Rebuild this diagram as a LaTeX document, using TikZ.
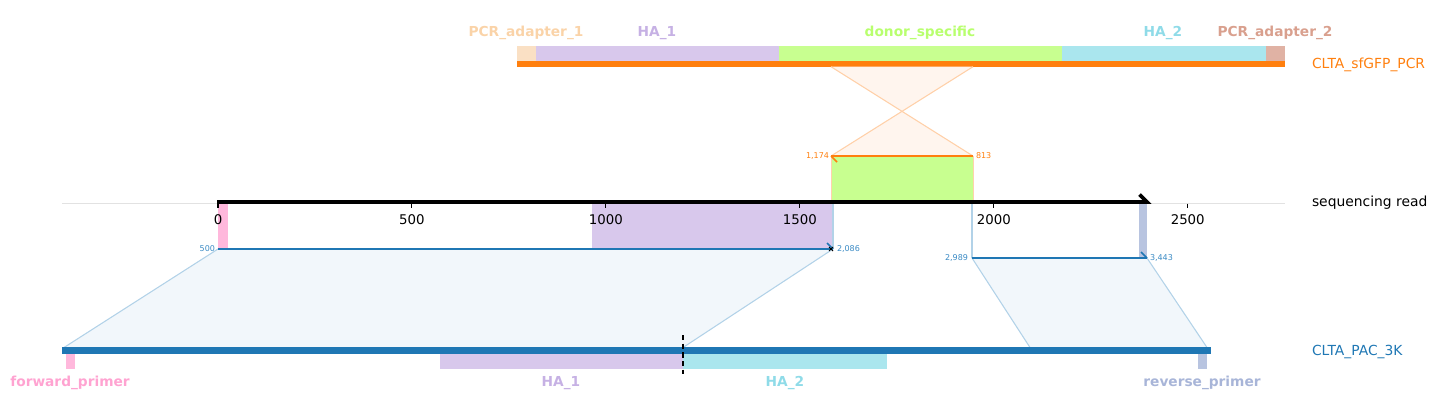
\documentclass[tikz,border=0pt]{standalone}
\usepackage{fontspec}
\setmainfont{DejaVu Sans}
\definecolor{cOrange}{HTML}{FF7F0E}
\definecolor{cBlue}{HTML}{1F77B4}
\definecolor{lbBlue}{HTML}{3A8AC4}
\definecolor{oFill}{HTML}{FFF5EE}
\definecolor{oLine}{HTML}{FFD0A8}
\definecolor{bFill}{HTML}{F2F7FB}
\definecolor{bLine}{HTML}{B2D2E8}
\definecolor{pinkBox}{HTML}{FFB8DC}
\definecolor{pinkTxt}{HTML}{FFA3D1}
\definecolor{lavBox}{HTML}{D8C8EC}
\definecolor{lavTxt}{HTML}{C6B1E4}
\definecolor{grnBox}{HTML}{C8FF90}
\definecolor{grnTxt}{HTML}{B8FF6E}
\definecolor{cyaBox}{HTML}{AAE6EE}
\definecolor{cyaTxt}{HTML}{8FDBE8}
\definecolor{pchBox}{HTML}{FAE0C4}
\definecolor{pchTxt}{HTML}{FAD3A8}
\definecolor{ad2Box}{HTML}{E0B2A4}
\definecolor{ad2Txt}{HTML}{D9A08E}
\definecolor{revBox}{HTML}{B8C4E0}
\definecolor{revTxt}{HTML}{A8B5D8}
\definecolor{axGrey}{HTML}{E2E2E2}
\begin{document}
\begin{tikzpicture}[x=0.75pt,y=-0.75pt,
  every node/.style={inner sep=0pt, outer sep=0pt},
  featlabel/.style={font=\bfseries\fontsize{10.3}{12}\selectfont, anchor=base},
  tracklabel/.style={font=\fontsize{10.4}{12}\selectfont, anchor=base west},
  ticklabel/.style={font=\fontsize{10}{12}\selectfont, anchor=base},
  smalllab/.style={font=\fontsize{6}{7}\selectfont},
  alnline/.style={cBlue, line width=1.5pt},
  edgeline/.style={bLine, line width=0.8pt},
]
\useasboundingbox (0,0) rectangle (1438,415);

% ---------- grey axis baseline ----------
\draw[axGrey, line width=0.7pt] (62,203) -- (1285,203);

% ---------- top track: CLTA_sfGFP_PCR ----------
\fill[pchBox] (517,46) rectangle (536,60.5);
\fill[lavBox] (536,46) rectangle (779,60.5);
\fill[grnBox] (779,46) rectangle (1062,60.5);
\fill[cyaBox] (1062,46) rectangle (1266,60.5);
\fill[ad2Box] (1266,46) rectangle (1285,60.5);
\fill[cOrange] (517,60.5) rectangle (1285,66.7);

\node[featlabel, text=pchTxt] (pa1) at (526,36.5) {PCR\_adapter\_1};
\node[featlabel, text=lavTxt] (ha1t) at (657,36.5) {HA\_1};
\node[featlabel, text=grnTxt] (dst) at (920,36.5) {donor\_specific};
\node[featlabel, text=cyaTxt] (ha2t) at (1163,36.5) {HA\_2};
\node[featlabel, text=ad2Txt] (pa2) at (1275,36.5) {PCR\_adapter\_2};
\node[tracklabel, text=cOrange] (pcrlab) at (1312,68) {CLTA\_sfGFP\_PCR};

% ---------- crossing (reverse) alignment ----------
\coordinate (tl) at (831,66.7);
\coordinate (tr) at (973,66.7);
\coordinate (bl) at (831,156);
\coordinate (br) at (973,156);
\fill[oFill] (tl) -- (tr) -- (bl) -- (br) -- cycle;
\draw[oLine, line width=0.8pt] (tl) -- (br) (tr) -- (bl);
\filldraw[fill=grnBox, draw=cOrange!35, line width=0.5pt] (831,156) rectangle (973,202);
\draw[cOrange, line width=1.5pt] (bl) -- (br);
\draw[cOrange, line width=1.3pt] (bl) -- ++(6,6);
\node[smalllab, text=cOrange, anchor=east] (l1174) at (829,156) {1,174};
\node[smalllab, text=cOrange, anchor=west] (l813) at (976,156) {813};

% ---------- read features ----------
\fill[pinkBox] (218,203) rectangle (228,249);
\fill[lavBox] (592,203) rectangle (833,249);
\fill[revBox] (1139,203) rectangle (1147,258);

% ---------- alignment polygons ----------
\coordinate (a1tl) at (218,249);
\coordinate (a1tr) at (833,249);
\coordinate (a1br) at (683,347.5);
\coordinate (a1bl) at (64,347.5);
\fill[bFill] (a1tl) -- (a1tr) -- (a1br) -- (a1bl) -- cycle;
\draw[edgeline] (a1tl) -- (a1bl) (a1tr) -- (a1br);
\draw[edgeline] (833,203) -- (a1tr);

\coordinate (a2tl) at (972,258);
\coordinate (a2tr) at (1147,258);
\coordinate (a2br) at (1207,347.5);
\coordinate (a2bl) at (1030,347.5);
\fill[bFill] (a2tl) -- (a2tr) -- (a2br) -- (a2bl) -- cycle;
\draw[edgeline] (a2tl) -- (a2bl) (a2tr) -- (a2br);
\draw[edgeline] (972,203) -- (a2tl);

% ---------- alignment lines ----------
\draw[alnline] (a1tl) -- (a1tr);
\draw[cBlue, line width=1.3pt] (a1tr) -- ++(-6,-6);
\draw[black, line width=0.7pt] (829,247) -- (833,251) (829,251) -- (833,247);
\node[smalllab, text=lbBlue, anchor=east] (l500) at (215,249) {500};
\node[smalllab, text=lbBlue, anchor=west] (l2086) at (837,249) {2,086};

\draw[alnline] (a2tl) -- (a2tr);
\draw[cBlue, line width=1.3pt] (a2tr) -- ++(-6,-6);
\node[smalllab, text=lbBlue, anchor=east] (l2989) at (968,258) {2,989};
\node[smalllab, text=lbBlue, anchor=west] (l3443) at (1150,258) {3,443};

% ---------- sequencing read axis ----------
\draw[black, line width=2.8pt, line join=miter] (217,202) -- (1147,202) -- (1139.5,194.5);
\foreach \p in {0,500,1000,1500,2000,2500}{
  \draw[black, line width=0.8pt] ({218+\p*0.3879},203.5) -- ({218+\p*0.3879},207.5);
  \node[ticklabel] at ({218+\p*0.3879},224.2) {\p};
}
\node[tracklabel, text=black] (readlab) at (1312,206.5) {sequencing read};

% ---------- bottom track: CLTA_PAC_3K ----------
\fill[cBlue] (62,347) rectangle (1211,354);
\fill[pinkBox] (66,354) rectangle (75,369);
\fill[lavBox] (440,354) rectangle (683,369);
\fill[cyaBox] (683,354) rectangle (887,369);
\fill[revBox] (1198,354) rectangle (1207,369);
\draw[black, line width=0.9pt, dash pattern=on 4pt off 2.5pt] (683,335) -- (683,374);

\node[featlabel, text=pinkTxt] (fwd) at (70,386.5) {forward\_primer};
\node[featlabel, text=lavTxt] (ha1b) at (561,386.5) {HA\_1};
\node[featlabel, text=cyaTxt] (ha2b) at (785,386.5) {HA\_2};
\node[featlabel, text=revTxt] (rev) at (1202,386.5) {reverse\_primer};
\node[tracklabel, text=cBlue] (paclab) at (1312,355) {CLTA\_PAC\_3K};
\end{tikzpicture}
\end{document}
